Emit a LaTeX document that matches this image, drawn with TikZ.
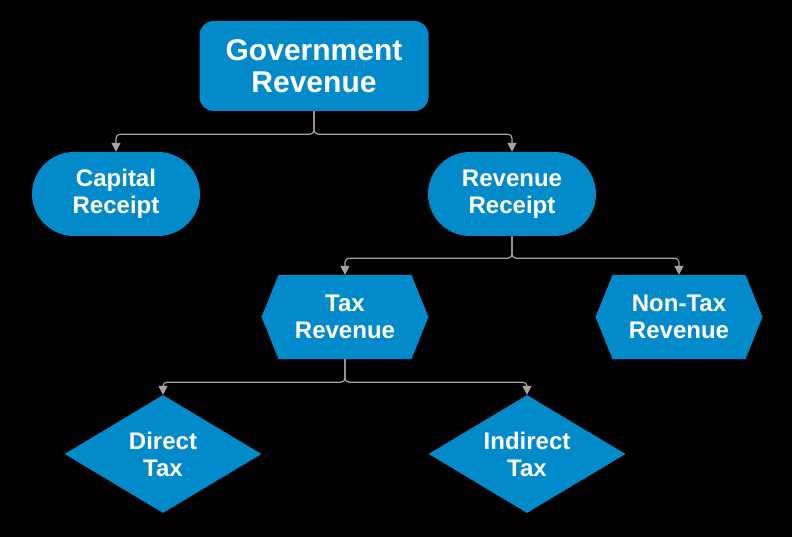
\documentclass[tikz,border=0pt]{standalone}
\usepackage{fontspec}
\setmainfont{Liberation Sans}
\usetikzlibrary{shapes.geometric,shapes.symbols,arrows.meta}
\definecolor{boxblue}{RGB}{2,138,202}
\definecolor{linegray}{RGB}{165,165,165}
\begin{document}
\begin{tikzpicture}[x=1pt,y=-1pt,
  box/.style={fill=boxblue,text=white,font=\fontsize{24}{27}\selectfont\bfseries,align=center,inner sep=0pt},
  pill/.style={box,rectangle,rounded corners=42pt,minimum width=168pt,minimum height=84pt},
  hexa/.style={box,signal,signal to=west and east,signal pointer angle=136,minimum width=167pt,minimum height=84pt},
  rhomb/.style={box,diamond,aspect=1.67,minimum width=197pt,minimum height=118pt},
  conn/.style={draw=linegray,line width=1.2pt,rounded corners=4pt,-{Triangle[width=9pt,length=9pt]}}]
\fill[black] (0,0) rectangle (792,537);
\useasboundingbox (0,0) rectangle (792,537);
\node[box,rectangle,rounded corners=14pt,minimum width=229pt,minimum height=90pt,font=\fontsize{30}{32}\selectfont\bfseries] (gov) at (314,66) {Government\\Revenue};
\node[pill] (cap) at (116,194) {Capital\\Receipt};
\node[pill] (rev) at (512,194) {Revenue\\Receipt};
\node[hexa] (tax) at (345,317) {Tax\\Revenue};
\node[hexa] (nontax) at (679,317) {Non-Tax\\Revenue};
\node[rhomb] (direct) at (163,454) {Direct\\Tax};
\node[rhomb] (indirect) at (527,454) {Indirect\\Tax};
\draw[conn] (gov.south) -- ++(0,23) -| (cap.north);
\draw[conn] (gov.south) -- ++(0,23) -| (rev.north);
\draw[conn] (rev.south) -- ++(0,22) -| (tax.north);
\draw[conn] (rev.south) -- ++(0,22) -| (nontax.north);
\draw[conn] (tax.south) -- ++(0,23) -| (direct.north);
\draw[conn] (tax.south) -- ++(0,23) -| (indirect.north);
\end{tikzpicture}
\end{document}
